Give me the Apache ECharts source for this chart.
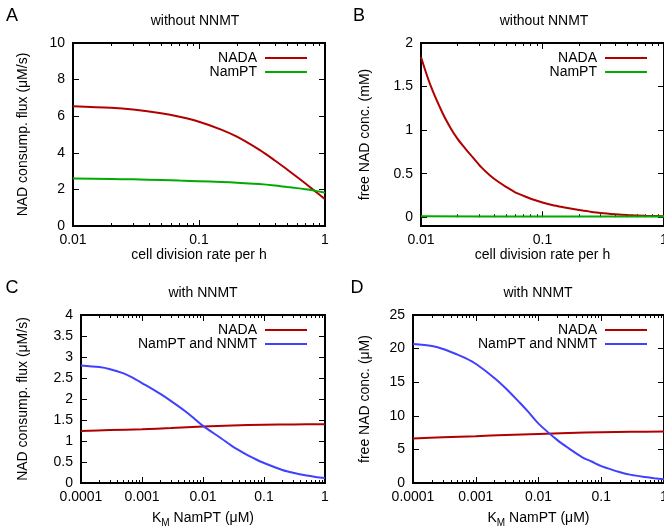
<!DOCTYPE html>
<html>
<head>
<meta charset="utf-8">
<script src="https://cdn.jsdelivr.net/npm/echarts@6/dist/echarts.min.js"></script>
<style>
html,body{margin:0;padding:0;background:#fff;overflow:hidden;}
#chart{width:664px;height:531px;}
</style>
</head>
<body>
<div id="chart"></div>
<script>
// ---------- data ----------
// Panel A: NAD consumption flux vs cell division rate (without NNMT)
const rateA = [0.01,0.02,0.03,0.05,0.07,0.1,0.15,0.2,0.3,0.4,0.5,0.6,0.7,0.8,0.9,1];
const nadaFluxA = [6.55,6.46,6.36,6.16,5.97,5.7,5.27,4.88,4.17,3.58,3.09,2.68,2.32,2.0,1.72,1.47];
const namptFluxA = [2.6,2.57,2.55,2.51,2.48,2.45,2.41,2.37,2.29,2.21,2.13,2.07,2.01,1.95,1.88,1.82];

// Panel B: free NAD concentration vs cell division rate (without NNMT)
const rateB = [0.01,0.012,0.015,0.0176,0.02,0.0228,0.0266,0.0313,0.037,0.043,0.05,0.059,0.07,0.081,0.1,0.12,0.148,0.2,0.246,0.3,0.4,0.5,0.7,1];
const nadaConcB = [1.84,1.51,1.2,1.02,0.9,0.8,0.69,0.575,0.48,0.41,0.35,0.29,0.245,0.21,0.17,0.14,0.115,0.083,0.065,0.05,0.035,0.026,0.017,0.011];
const rateB2 = [0.01,0.1,1];
const namptConcB = [0.011,0.01,0.009];

// Panel C: NAD consumption flux vs KM NamPT (with NNMT)
const kmC = [0.0001,0.0002,0.0003,0.0005,0.0007,0.001,0.002,0.003,0.005,0.007,0.01,0.02,0.03,0.05,0.07,0.1,0.2,0.3,0.5,0.7,1];
const nnmtFluxC = [2.8,2.76,2.71,2.61,2.51,2.38,2.12,1.95,1.72,1.55,1.36,1.06,0.88,0.69,0.58,0.475,0.31,0.242,0.176,0.145,0.12];
const kmC2 = [0.0001,0.0003,0.001,0.003,0.01,0.03,0.1,0.3,1];
const nadaFluxC = [1.24,1.26,1.28,1.31,1.345,1.37,1.385,1.395,1.4];

// Panel D: free NAD concentration vs KM NamPT (with NNMT)
const kmD = [0.0001,0.0002,0.0003,0.0005,0.0007,0.001,0.002,0.003,0.005,0.007,0.01,0.02,0.03,0.05,0.07,0.1,0.2,0.3,0.5,0.7,1];
const nnmtConcD = [20.7,20.4,19.95,19.15,18.55,17.74,15.6,14.1,11.97,10.5,8.84,6.38,5.19,3.83,3.2,2.52,1.61,1.21,0.88,0.7,0.54];
const kmD2 = [0.0001,0.0003,0.001,0.003,0.01,0.03,0.1,0.3,1];
const nadaConcD = [6.62,6.8,6.97,7.15,7.31,7.45,7.56,7.62,7.66];

// tick values
const xTicksAB = [0.01,0.1,1];
const xTicksCD = [0.0001,0.001,0.01,0.1,1];
const minorMultipliers = [2,3,4,5,6,7,8,9];
const yTicksB = [0,0.5,1,1.5,2];

// ---------- styling ----------
const FONT = "'Liberation Sans', Arial, Helvetica, sans-serif";
const RED = '#b00000', GREEN = '#00aa00', BLUE = '#4040ff';
const TXT = '#000';

function minorTicks(majors){
  const out = [];
  for (let i = 0; i < majors.length - 1; i++)
    for (const m of minorMultipliers) out.push(+(majors[i] * m).toPrecision(3));
  return out;
}
function pairs(xs, ys){ return xs.map((v, i) => [v, ys[i]]); }

const kmName = '{n|K}{s|M}{n| NamPT (μM)}';

const panels = [
  { grid:{left:73, top:43, width:252, height:183}, xTicks:xTicksAB, yMin:0, yMax:10, yInterval:2,
    yName:'NAD consump. flux (μM/s)', yGap:43, xName:'cell division rate per h', xGap:19,
    legend:{right:357, top:51}, title:'without NNMT', tx:195, ty:21, letter:'A', lx:12, ly:16,
    series:[{name:'NADA', color:RED, data:pairs(rateA,nadaFluxA)}, {name:'NamPT', color:GREEN, data:pairs(rateA,namptFluxA)}] },
  { grid:{left:421, top:43, width:243, height:183}, xTicks:xTicksAB, yMin:-0.1, yMax:2, yTicks:yTicksB,
    yName:'free NAD conc. (mM)', yGap:49, xName:'cell division rate per h', xGap:19,
    legend:{right:17, top:51}, title:'without NNMT', tx:544, ty:21, letter:'B', lx:359, ly:16,
    series:[{name:'NADA', color:RED, data:pairs(rateB,nadaConcB)}, {name:'NamPT', color:GREEN, data:pairs(rateB2,namptConcB)}] },
  { grid:{left:81, top:315, width:244, height:168}, xTicks:xTicksCD, yMin:0, yMax:4, yInterval:0.5,
    yName:'NAD consump. flux (μM/s)', yGap:51, xName:kmName, xGap:25,
    legend:{right:357, top:323}, title:'with NNMT', tx:203, ty:293, letter:'C', lx:12, ly:288,
    series:[{name:'NADA', color:RED, data:pairs(kmC2,nadaFluxC)}, {name:'NamPT and NNMT', color:BLUE, data:pairs(kmC,nnmtFluxC)}] },
  { grid:{left:413, top:315, width:251, height:168}, xTicks:xTicksCD, yMin:0, yMax:25, yInterval:5,
    yName:'free NAD conc. (μM)', yGap:41, xName:kmName, xGap:25,
    legend:{right:17, top:323}, title:'with NNMT', tx:538, ty:293, letter:'D', lx:357, ly:288,
    series:[{name:'NADA', color:RED, data:pairs(kmD2,nadaConcD)}, {name:'NamPT and NNMT', color:BLUE, data:pairs(kmD,nnmtConcD)}] }
];

const tickLine = {color:'#000', width:1};
const labelStyle = {fontSize:14, fontFamily:FONT, color:TXT};
const nameStyle = {fontSize:14, fontFamily:FONT, color:TXT,
  rich:{ n:{fontSize:14, fontFamily:FONT, color:TXT, lineHeight:20},
         s:{fontSize:10, fontFamily:FONT, color:TXT, lineHeight:10, verticalAlign:'bottom'} } };

const grids = [], xAxes = [], yAxes = [], series = [], legends = [], graphics = [];

panels.forEach((p, i) => {
  grids.push(Object.assign({}, p.grid, {show:true, borderColor:'#000', borderWidth:2,
    backgroundColor:'transparent', containLabel:false, outerBoundsMode:'none'}));
  const xMin = p.xTicks[0], xMax = p.xTicks[p.xTicks.length - 1];
  const minors = minorTicks(p.xTicks);
  const xb = () => ({type:'log', logBase:10, gridIndex:i, min:xMin, max:xMax,
    splitLine:{show:false}, axisLine:{show:false}, silent:true});
  xAxes.push(Object.assign(xb(), {position:'bottom', name:p.xName, nameLocation:'middle', nameGap:p.xGap,
    nameTextStyle:nameStyle,
    axisTick:{show:true, inside:true, length:6, customValues:p.xTicks, lineStyle:tickLine},
    axisLabel:Object.assign({show:true, customValues:p.xTicks, margin:7, showMinLabel:true, showMaxLabel:true,
      hideOverlap:false, formatter:v => String(+Number(v).toPrecision(6))}, labelStyle)}));
  xAxes.push(Object.assign(xb(), {position:'bottom',
    axisTick:{show:true, inside:true, length:3, customValues:minors, lineStyle:tickLine}, axisLabel:{show:false}}));
  xAxes.push(Object.assign(xb(), {position:'top',
    axisTick:{show:true, inside:true, length:6, customValues:p.xTicks, lineStyle:tickLine}, axisLabel:{show:false}}));
  xAxes.push(Object.assign(xb(), {position:'top',
    axisTick:{show:true, inside:true, length:3, customValues:minors, lineStyle:tickLine}, axisLabel:{show:false}}));

  const yb = () => {
    const o = {type:'value', gridIndex:i, min:p.yMin, max:p.yMax, splitLine:{show:false}, axisLine:{show:false}, silent:true};
    if (p.yInterval) o.interval = p.yInterval;
    return o;
  };
  const yTick = {show:true, inside:true, length:6, lineStyle:tickLine};
  if (p.yTicks) yTick.customValues = p.yTicks;
  const yLab = Object.assign({show:true, margin:8, showMinLabel:true, showMaxLabel:true, hideOverlap:false}, labelStyle);
  if (p.yTicks) yLab.customValues = p.yTicks;
  yAxes.push(Object.assign(yb(), {position:'left', name:p.yName, nameLocation:'middle', nameRotate:90,
    nameGap:p.yGap, nameTextStyle:{fontSize:14, fontFamily:FONT, color:TXT}, axisTick:yTick, axisLabel:yLab}));
  yAxes.push(Object.assign(yb(), {position:'right', axisTick:Object.assign({}, yTick), axisLabel:{show:false}}));

  p.series.forEach(s => {
    series.push({type:'line', name:s.name, xAxisIndex:4*i, yAxisIndex:2*i, data:s.data,
      showSymbol:false, symbol:'none', smooth:0.3, color:s.color,
      lineStyle:{color:s.color, width:2}, itemStyle:{color:s.color}, emphasis:{disabled:true}, clip:true});
  });

  legends.push({orient:'vertical', right:p.legend.right, top:p.legend.top, align:'right',
    data:p.series.map(s => s.name), icon:'rect', itemWidth:42, itemHeight:2, itemGap:0, padding:0,
    selectedMode:false, itemStyle:{borderWidth:0},
    textStyle:{fontSize:14, fontFamily:FONT, color:TXT, lineHeight:14, padding:[0,3,0,0]}});

  graphics.push({type:'text', x:p.tx, y:p.ty, silent:true,
    style:{text:p.title, align:'center', verticalAlign:'middle', fontSize:14, fontFamily:FONT, fill:TXT}});
  graphics.push({type:'text', x:p.lx, y:p.ly, silent:true,
    style:{text:p.letter, align:'center', verticalAlign:'middle', fontSize:18, fontFamily:FONT, fill:TXT}});
});

const chart = echarts.init(document.getElementById('chart'), null, {renderer:'canvas', width:664, height:531});
chart.setOption({
  animation:false,
  backgroundColor:'#fff',
  grid:grids, xAxis:xAxes, yAxis:yAxes, series:series, legend:legends, graphic:graphics,
  tooltip:{show:false}
});
</script>
</body>
</html>
